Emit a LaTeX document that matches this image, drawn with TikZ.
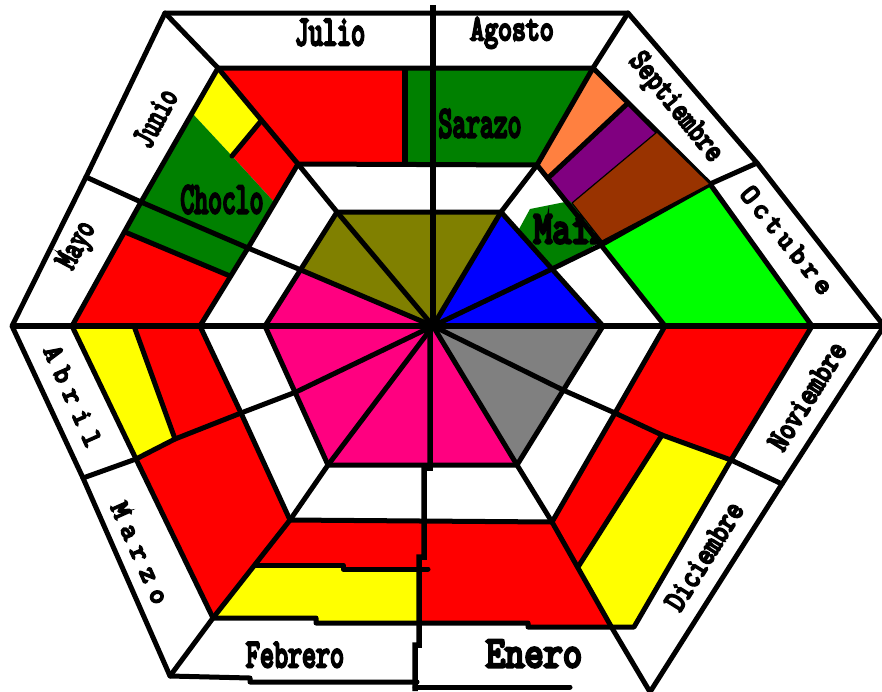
\documentclass[tikz,border=0pt]{standalone}
\usepackage{fontspec}
\newfontfamily\labfont[FakeBold=7]{Latin Modern Mono}
\newcommand\labsz[1]{\labfont\fontsize{#1}{#1}\selectfont}
\newcommand\gapk{\kern 9pt}
\newcommand\gapo{\kern 5pt}
\definecolor{cred}{HTML}{FF0000}
\definecolor{cgreen}{HTML}{008000}
\definecolor{cyel}{HTML}{FFFF00}
\definecolor{colive}{HTML}{808000}
\definecolor{cblue}{HTML}{0000FF}
\definecolor{cgray}{HTML}{808080}
\definecolor{cpink}{HTML}{FF0080}
\definecolor{corange}{HTML}{FF8040}
\definecolor{cpurple}{HTML}{800080}
\definecolor{cbrown}{HTML}{993300}
\definecolor{clime}{HTML}{00FF00}
\begin{document}
\begin{tikzpicture}[x=1pt,y=-1pt,
  ln/.style={line width=5pt, line join=round, line cap=round},
  ax/.style={line width=5.5pt},
  lab/.style={inner sep=0pt}]
\useasboundingbox (0,0) rectangle (882,691);
\fill[white] (0,0) rectangle (882,691);
% centre
\coordinate (C) at (433,326);
% inner hexagon H4
\coordinate (a1) at (337,212);
\coordinate (a2) at (501,212);
\coordinate (a3) at (603,326);
\coordinate (a4) at (517,465);
\coordinate (a5) at (328,465);
\coordinate (a6) at (265,326);
\coordinate (amur) at (552,269);
\coordinate (amlr) at (563,390);
\coordinate (amll) at (296,392);
\coordinate (amul) at (301,270);
% H3
\coordinate (b1) at (298,164);
\coordinate (b2) at (537,165);
\coordinate (b3) at (665,326);
\coordinate (b4) at (552,522);
\coordinate (b5) at (290,520);
\coordinate (b6) at (200,326);
\coordinate (bmur) at (601,245);
\coordinate (bmlr) at (615,413);
\coordinate (bmll) at (241,413);
\coordinate (bmul) at (248,248);
% H2
\coordinate (c1) at (218,68);
\coordinate (c2) at (593,68);
\coordinate (c3) at (812,326);
\coordinate (c4) at (634,627);
\coordinate (c5) at (213,618);
\coordinate (c6) at (72,326);
\coordinate (cmur) at (710,184);
\coordinate (cmlr) at (731,460);
\coordinate (cmll) at (136,459);
\coordinate (cmul) at (141,202);
\coordinate (cbr) at (612,628);
% H1
\coordinate (d1) at (165,13);
\coordinate (d2) at (628,13);
\coordinate (d3) at (884,326);
\coordinate (d4) at (650,692);
\coordinate (d5) at (170,676);
\coordinate (d6) at (12,326);
\coordinate (dmur) at (757,163);
\coordinate (dmlr) at (782,484);
\coordinate (dmll) at (83,478);
\coordinate (dmul) at (86,177);
\coordinate (dmt) at (433,5);
% stripe points
\coordinate (jy1) at (261,121);
\coordinate (jy2) at (232,156);
\coordinate (jy3) at (192,113);
\coordinate (jr3) at (275,203);
\coordinate (mb1) at (125,232);
\coordinate (mb2) at (230,276);
\coordinate (ab1) at (134,326);
\coordinate (ab2) at (175,439);
\coordinate (fb1) at (255,565);
\coordinate (dr1) at (662,435);
\coordinate (dr2) at (578,567);
\coordinate (s1) at (628,103);
\coordinate (s2) at (548,178);
\coordinate (s3) at (657,132);
\coordinate (s4) at (572,203);
\coordinate (s5) at (564,199);
\coordinate (s6) at (602,241);

% ---------- fills: crop ring ----------
\fill[cred] (c1) -- (405,68) -- (405,164) -- (b1) -- cycle;
\fill[cgreen] (405,68) -- (c2) -- (b2) -- (405,164) -- cycle;
\fill[cyel] (c1) -- (jy1) -- (jy2) -- (jy3) -- cycle;
\fill[cred] (jy1) -- (b1) -- (jr3) -- (jy2) -- cycle;
\fill[cgreen] (jy3) -- (jy2) -- (jr3) -- (mb2) -- (mb1) -- cycle;
\fill[cred] (mb1) -- (mb2) -- (b6) -- (c6) -- cycle;
\fill[cyel] (c6) -- (ab1) -- (ab2) -- (cmll) -- cycle;
\fill[cred] (ab1) -- (b6) -- (bmll) -- (ab2) -- cycle;
\fill[cred] (cmll) -- (ab2) -- (bmll) -- (b5) -- (c5) -- cycle;
\fill[cred] (b5) -- (424,521) -- (424,569) -- (343,569) -- (343,565) -- (fb1) -- cycle;
\fill[cyel] (fb1) -- (343,565) -- (343,569) -- (420,569) -- (420,623) -- (316,623) -- (316,618) -- (c5) -- cycle;
\fill[cred] (424,521) -- (b4) -- (cbr) -- (528,628) -- (528,623) -- (419,623) -- (419,557) -- (424,557) -- cycle;
\fill[cred] (b4) -- (bmlr) -- (dr1) -- (dr2) -- cycle;
\fill[cyel] (dr1) -- (cmlr) -- (c4) -- (cbr) -- (dr2) -- cycle;
\fill[cred] (b3) -- (c3) -- (cmlr) -- (dr1) -- (bmlr) -- cycle;
\fill[clime] (s6) -- (cmur) -- (c3) -- (b3) -- (bmur) -- cycle;
\fill[corange] (c2) -- (s1) -- (s2) -- (b2) -- cycle;
\fill[cpurple] (s1) -- (s3) -- (s4) -- (s5) -- (s2) -- cycle;
\fill[cgreen] (518,231) -- (530,209) -- (570,201) -- (s6) -- (amur) -- cycle;
% ---------- fills: inner hexagon ----------
\fill[colive] (C) -- (amul) -- (a1) -- (a2) -- cycle;
\fill[cblue] (C) -- (a2) -- (a3) -- cycle;
\fill[cgray] (C) -- (a3) -- (a4) -- cycle;
\fill[cpink] (C) -- (a4) -- (a5) -- (a6) -- (amul) -- cycle;

% ---------- outlines ----------
\draw[ln] (570,687) -- (415,687);
\draw[ln] (417,682) -- (250,682) -- (250,678) -- (d5) -- (dmll) -- (d6) -- (dmul) -- (d1) -- (d2) -- (dmur) -- (d3) -- (dmlr) -- (d4);
\draw[ln] (c1) -- (c2) -- (cmur) -- (c3) -- (cmlr) -- (c4) -- (528,627) -- (528,623) -- (316,623) -- (316,618) -- (c5) -- (cmll) -- (c6) -- (cmul) -- cycle;
\draw[ln] (b1) -- (b2) -- (bmur) -- (b3) -- (bmlr) -- (b4) -- (b5) -- (bmll) -- (b6) -- (bmul) -- cycle;
\draw[ln] (a1) -- (a2) -- (a3) -- (a4) -- (a5) -- (a6) -- cycle;
% ---------- spokes ----------
\draw[ax] (dmt) -- (C);
\draw[ax] (d6) -- (d3);
\draw[ax] (C) -- (430,330) -- (430,468) -- (424,468) -- (424,557) -- (419,557) -- (419,645) -- (415,645) -- (415,691);
\draw[ln] (C) -- (a1) -- (b1) -- (c1) -- (d1);
\draw[ln] (C) -- (amul) -- (bmul) -- (cmul) -- (dmul);
\draw[ln] (C) -- (amll) -- (bmll) -- (ab2) -- (cmll) -- (dmll);
\draw[ln] (C) -- (a5) -- (b5) -- (c5) -- (d5);
\draw[ln] (C) -- (a4) -- (b4) -- (cbr) -- (d4);
\draw[ln] (C) -- (amlr) -- (bmlr) -- (dr1) -- (cmlr) -- (dmlr);
\draw[ln] (C) -- (amur) -- (bmur) -- (cmur) -- (dmur);
\draw[ln] (C) -- (a2) -- (b2) -- (c2) -- (d2);
% ---------- stripe lines ----------
\draw[ax] (405,68) -- (405,164);
\draw[ln] (jy1) -- (jy2);
\draw[ln] (mb1) -- (mb2);
\draw[ln] (ab1) -- (ab2);
\draw[ln] (fb1) -- (343,565) -- (343,569) -- (428,569);
\draw[ln] (dr1) -- (dr2);
\draw[ln] (s1) -- (s2);

% ---------- labels ----------
\node[lab, anchor=base, xscale=0.65] (tjul) at (330,45) {\labsz{42}Julio};
\node[lab, anchor=base, xscale=0.75] (tago) at (512,40) {\labsz{36}Agosto};
\node[lab, rotate=-51, xscale=0.8] (tsep) at (675,108) {\labsz{32}Septiembre};
\node[lab, rotate=-51] (toct) at (787,240) {\labsz{28}O\gapo c\gapo t\gapo u\gapo b\gapo r\gapo e};
\node[lab, rotate=58, xscale=0.82] (tnov) at (807,396) {\labsz{32}Noviembre};
\node[lab, rotate=58, xscale=0.82] (tdic) at (704,556) {\labsz{32}Diciembre};
\node[lab, anchor=base, xscale=0.85] (tene) at (534,667) {\labsz{44}Enero};
\node[lab, anchor=base, xscale=0.68] (tfeb) at (295,667) {\labsz{40}Febrero};
\node[lab, rotate=-66] (tmar) at (140,553) {\labsz{28}M\gapk a\gapk r\gapk z\gapk o};
\node[lab, rotate=-66] (tabr) at (73,396) {\labsz{28}A\gapk b\gapk r\gapk i\gapk l};
\node[lab, rotate=62, xscale=0.7] (tmay) at (78,246) {\labsz{34}Mayo};
\node[lab, rotate=62, xscale=0.7] (tjun) at (155,118) {\labsz{34}Junio};
\node[lab, anchor=base, xscale=0.61] (tcho) at (222,213) {\labsz{44}Choclo};
\node[lab, anchor=base, xscale=0.61] (tsar) at (480,137) {\labsz{44}Sarazo};
\node[lab, anchor=base, xscale=0.79] (tmai) at (571,243) {\labsz{46}Maíz};
% brown patch over Septiembre
\draw[fill=cbrown, line width=1.2pt, line join=round] (s4) -- (s3) -- (cmur) -- (s6) -- cycle;
\end{tikzpicture}
\end{document}
